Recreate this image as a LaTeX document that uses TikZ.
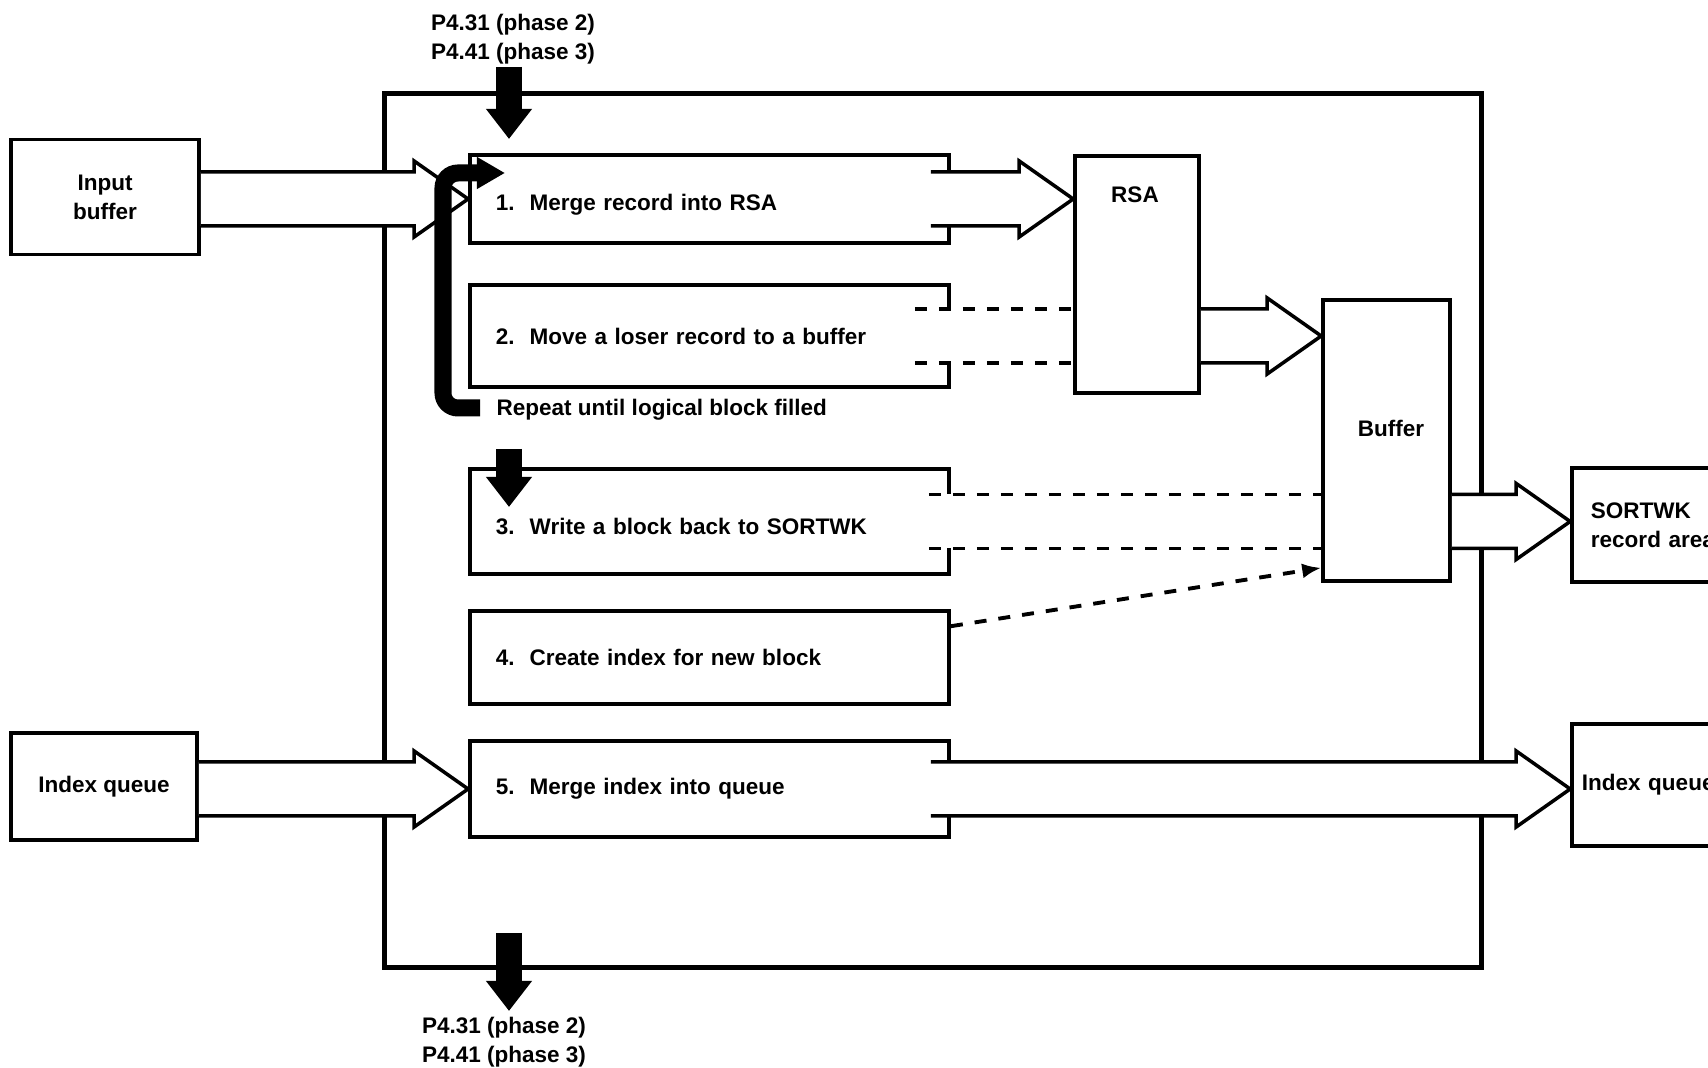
\documentclass[tikz,border=0pt]{standalone}
\usepackage{fontspec}
\setmainfont{Liberation Sans}
\usetikzlibrary{arrows.meta,calc}

\tikzset{
  box/.style={draw, line width=1pt, inner sep=0pt, font=\fontsize{6.4}{8.3}\selectfont\bfseries},
  stepbox/.style={box, minimum width=4.79cm, text width=4.27cm, align=left, inner xsep=0.26cm},
  txt/.style={inner sep=0pt, font=\fontsize{6.4}{8.3}\selectfont\bfseries},
  fatline/.style={draw, fill=white, line width=1pt, line join=miter},
  dashline/.style={line width=1.1pt, dash pattern=on 0.12cm off 0.12cm},
  bigarrow/.style={line width=0.25cm, -{Triangle[width=0.44cm,length=0.3cm]}},
  loopline/.style={line width=0.17cm, rounded corners=0.15cm, -{Triangle[width=0.3cm,length=0.28cm]}}
}

% block arrow: #1 start of shaft, #2 tip (same height)
\newcommand{\fatarrow}[2]{%
  \filldraw[fatline] ($(#1)+(0,-27)$) -- ($(#2)+(-54,-27)$) -- ($(#2)+(-54,-38)$) -- (#2)
    -- ($(#2)+(-54,38)$) -- ($(#2)+(-54,27)$) -- ($(#1)+(0,27)$);}

\begin{document}
\begin{tikzpicture}[x=0.01cm, y=-0.01cm]
\useasboundingbox (0,0) rectangle (1708,1068);
\clip (0,0) rectangle (1708,1068);

\node[draw, line width=1.5pt, minimum width=10.96cm, minimum height=8.73cm] (phase) at (933,530.5) {};

\node[box, minimum width=1.88cm, minimum height=1.15cm, align=center] (inbuf) at (105,197) {Input\\buffer};
\node[box, minimum width=1.86cm, minimum height=1.07cm] (iqin) at (104,786.5) {Index queue};

\node[stepbox, minimum height=0.88cm, text height=7.7pt] (step1) at (709.5,199) {1.\ \ Merge record into RSA};
\node[stepbox, minimum height=1.02cm] (step2) at (709.5,336) {2.\ \ Move a loser record to a buffer};
\node[stepbox, minimum height=1.05cm, text height=7.7pt] (step3) at (709.5,521.5) {3.\ \ Write a block back to SORTWK};
\node[stepbox, minimum height=0.93cm] (step4) at (709.5,657.5) {4.\ \ Create index for new block};
\node[stepbox, minimum height=0.96cm] (step5) at (709.5,789) {5.\ \ Merge index into queue};

\node[box, minimum width=1.24cm, minimum height=2.37cm] (rsa) at (1137,274.5) {};
\node[txt] (rsalbl) at (1135,195) {RSA};
\node[box, minimum width=1.27cm, minimum height=2.81cm] (buffer) at (1386.5,440.5) {};
\node[txt] (buflbl) at (1391,428) {Buffer};

\node[box, minimum width=1.88cm, minimum height=1.14cm, text width=1.5cm, align=left, inner xsep=0.19cm] (sortwk) at (1666,525) {SORTWK\\record area};
\node[box, minimum width=1.88cm, minimum height=1.22cm, text width=1.68cm, align=left, inner xsep=0.1cm] (iqout) at (1666,785) {Index queue};

\node[txt, align=center] (toplbl) at (513,39) {P4.31 (phase 2)\\P4.41 (phase 3)};
\node[txt, align=center] (botlbl) at (504,1042) {P4.31 (phase 2)\\P4.41 (phase 3)};
\node[txt, anchor=west] (repeat) at (496,410) {Repeat until logical block filled};

\coordinate (s1out) at ([xshift=-2mm]step1.east);
\coordinate (s5out) at ([xshift=-2mm]step5.east);

% wide arrows
\fatarrow{inbuf.east |- step1.west}{step1.west}
\fatarrow{s1out}{rsa.west |- s1out}
\fatarrow{rsa.east |- step2.east}{buffer.west |- step2.east}
\fatarrow{buffer.east |- step3.east}{sortwk.west |- step3.east}
\fatarrow{iqin.east |- step5.west}{step5.west}
\fatarrow{s5out}{iqout.west |- s5out}

% dashed pairs
\draw[white, line width=2pt] ($(step2.east)+(0,-27)$) -- ($(step2.east)+(0,27)$);
\draw[dashline] ($(step2.east)+(-36,-27)$) -- ($(rsa.west |- step2.east)+(0,-27)$);
\draw[dashline] ($(step2.east)+(-36,27)$) -- ($(rsa.west |- step2.east)+(0,27)$);
\draw[white, line width=2pt] ($(step3.east)+(0,-27)$) -- ($(step3.east)+(0,27)$);
\draw[dashline] ($(step3.east)+(-22,-27)$) -- ($(buffer.west |- step3.east)+(0,-27)$);
\draw[dashline] ($(step3.east)+(-22,27)$) -- ($(buffer.west |- step3.east)+(0,27)$);
\draw[dashline, -{Latex[length=0.19cm,width=0.15cm]}] ($(step4.north east)+(0,17)$) -- ($(buffer.south west)+(0,-15)$);

% heavy arrows
\coordinate (topout) at (509,67);
\coordinate (topin) at (509,139);
\coordinate (midout) at (509,449);
\coordinate (midin) at (509,507);
\coordinate (botout) at (509,933);
\coordinate (botin) at (509,1011);
\draw[bigarrow] (topout) -- (topin);
\draw[bigarrow] (midout) -- (midin);
\draw[bigarrow] (botout) -- (botin);
\draw[loopline] (480,408) -- (443,408) -- (443,173) -- (505,173);
\end{tikzpicture}
\end{document}
